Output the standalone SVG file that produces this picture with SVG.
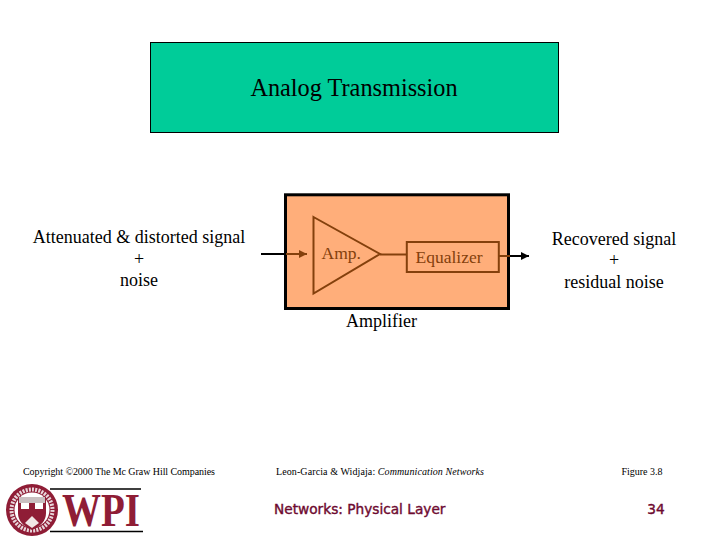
<svg xmlns="http://www.w3.org/2000/svg" width="720" height="540" viewBox="0 0 720 540">
<style>
text{font-family:"Liberation Serif","Times New Roman",serif;fill:#000}
.m{text-anchor:middle}
.b{font-size:18px}
.s{font-size:10px}
.w{fill:#84400c;font-size:17.500px}
.wire{fill:none;stroke:#000;stroke-width:2}
.bwire{fill:none;stroke:#84400c;stroke-width:2}
.net{font-family:"DejaVu Sans",sans-serif;font-size:13.700px;fill:#6e0a30;stroke:#6e0a30;stroke-width:.4}
</style>
<defs>
<marker id="a" markerUnits="userSpaceOnUse" markerWidth="9" markerHeight="9" refX="8" refY="4.500" orient="auto"><path d="M0 .5L8 4.500L0 8.500z" fill="#000"/></marker>
<marker id="ab" markerUnits="userSpaceOnUse" markerWidth="9" markerHeight="9" refX="8" refY="4.500" orient="auto"><path d="M0 .5L8 4.500L0 8.500z" fill="#84400c"/></marker>
</defs>
<rect width="720" height="540" fill="#fff"/>
<g id="title"><rect x="150.500" y="42.500" width="408" height="90" fill="#00cc99" stroke="#000"/><text x="354" y="96" class="m" font-size="24.300">Analog Transmission</text></g>
<g id="input-label"><text x="139" y="243" class="m b">Attenuated &amp; distorted signal</text><text x="139" y="264.500" class="m b">+</text><text x="139" y="286" class="m b">noise</text></g>
<g id="amplifier"><rect x="285.500" y="194.800" width="223" height="113.700" fill="#ffae7a" stroke="#000" stroke-width="3"/><text x="381.500" y="327" class="m b">Amplifier</text></g>
<g id="amp"><path d="M313.500 217L380 254L313.500 293.500Z" fill="none" stroke="#84400c" stroke-width="2"/><text x="321.500" y="259" class="w">Amp.</text></g>
<g id="equalizer"><rect x="406.800" y="242" width="92" height="30" fill="none" stroke="#84400c" stroke-width="2"/><text x="449" y="263" class="m w">Equalizer</text></g>
<g id="connectors">
<path class="wire" d="M261 254H286"/>
<path class="bwire" d="M286 254H307" marker-end="url(#ab)"/>
<path class="bwire" d="M380 254.500H406"/>
<path class="bwire" d="M499 256H510"/>
<path class="wire" d="M510 256H529" marker-end="url(#a)"/>
</g>
<g id="output-label"><text x="614" y="245" class="m b">Recovered signal</text><text x="614" y="266" class="m b">+</text><text x="614" y="288" class="m b">residual noise</text></g>
<g id="footer">
<text x="119" y="475" class="m s" textLength="192" lengthAdjust="spacing">Copyright ©2000 The Mc Graw Hill Companies</text>
<text x="276" y="475" class="s" textLength="208" lengthAdjust="spacing">Leon-Garcia &amp; Widjaja: <tspan font-style="italic">Communication Networks</tspan></text>
<text x="642" y="475" class="m s">Figure 3.8</text>
<text x="274" y="514" class="net">Networks: Physical Layer</text>
<text x="656" y="514" class="m net">34</text>
</g>
<g id="wpi-logo">
<circle cx="32" cy="510" r="26" fill="#8f1d36"/>
<circle cx="32" cy="510" r="20.500" fill="none" stroke="#e8d6da" stroke-width="4" stroke-dasharray="2 1.200"/>
<circle cx="32" cy="510" r="17.500" fill="#fff"/>
<path d="M18 497H46V513Q46 524 32 530Q18 524 18 513Z" fill="#8f1d36"/>
<path d="M19 497H45V503H19Z" fill="#c9bfc0"/>
<path d="M21 503H29V509H21ZM35 503H43V509H35Z" fill="#fff"/>
<path d="M25 523L32 516L39 523L32 528Z" fill="#f1e6e6"/>
<path d="M50 489H141M50 531.500H143" stroke="#000" stroke-width="1.500"/>
<text x="62" y="526" font-size="46" font-weight="bold" textLength="78" lengthAdjust="spacingAndGlyphs" style="fill:#8f1d36">WPI</text>
</g>
</svg>
